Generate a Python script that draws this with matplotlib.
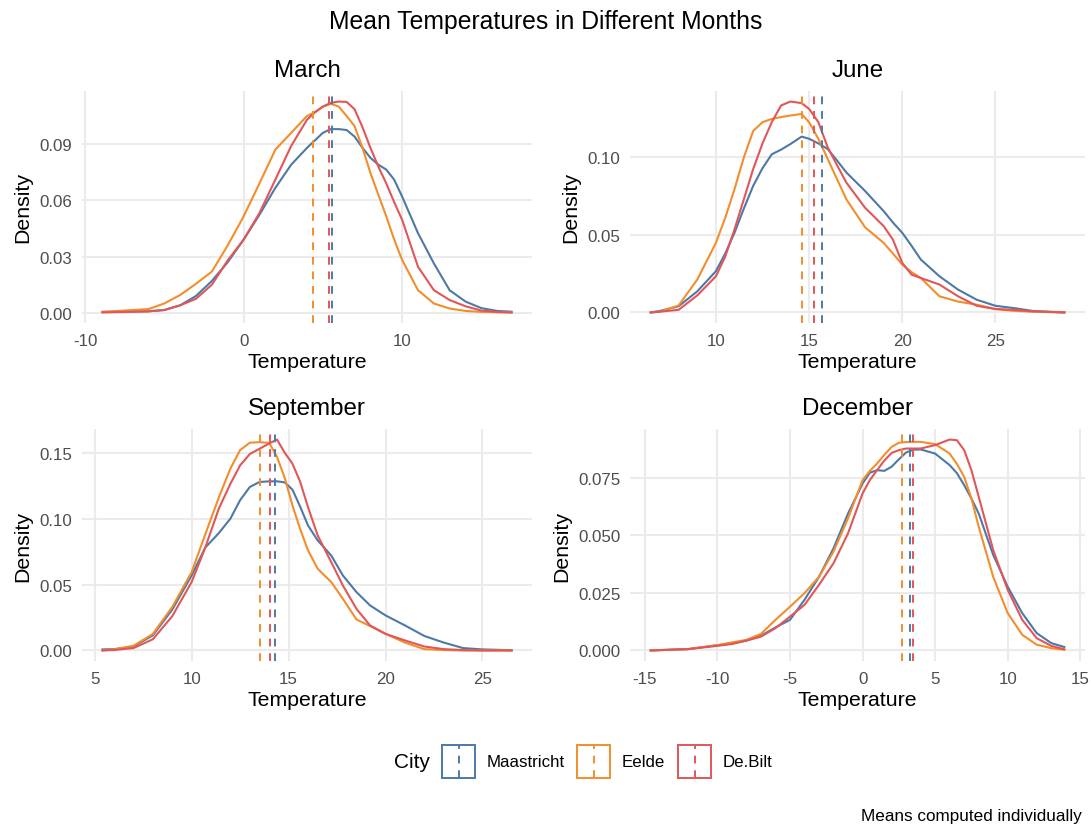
import matplotlib
matplotlib.use("Agg")
import matplotlib.pyplot as plt
from matplotlib.patches import Rectangle
from matplotlib.lines import Line2D

plt.rcParams['font.family'] = ['Liberation Sans', 'DejaVu Sans']
plt.rcParams['axes.unicode_minus'] = False

cities = ['Maastricht', 'Eelde', 'De.Bilt']
colors = ['#4E79A7', '#F28E2B', '#E15759']

# March
mar_x = [-8.9, -6, -5, -4, -3, -2, -1, 0, 1, 2, 3, 4, 4.5, 5, 5.5, 6, 6.5, 7, 7.5, 8, 8.5, 9, 9.5, 10,
         11, 12, 13, 14, 15, 16, 16.9]
mar_maastricht = [0.0005, 0.0008, 0.0015, 0.004, 0.009, 0.017, 0.027, 0.039, 0.0523, 0.0666, 0.079, 0.088, 0.092,
                  0.096, 0.098, 0.098, 0.0975, 0.094, 0.088, 0.0827, 0.079, 0.0764, 0.071, 0.062,
                  0.0425, 0.0264, 0.012, 0.006, 0.0025, 0.001, 0.0006]
mar_eelde = [0.0005, 0.002, 0.005, 0.0095, 0.0155, 0.022, 0.036, 0.0514, 0.069, 0.087, 0.096, 0.105, 0.107,
             0.110, 0.1115, 0.110, 0.105, 0.0996, 0.088, 0.0746, 0.063, 0.0514, 0.039, 0.0282,
             0.0121, 0.005, 0.0023, 0.001, 0.0005, 0.0003, 0.0002]
mar_debilt = [0.0002, 0.0008, 0.0015, 0.004, 0.0075, 0.015, 0.028, 0.039, 0.0532, 0.071, 0.089, 0.103, 0.107,
              0.110, 0.112, 0.1127, 0.1125, 0.1086, 0.099, 0.088, 0.078, 0.069, 0.059, 0.0496,
              0.0246, 0.0121, 0.0068, 0.0035, 0.0012, 0.0005, 0.0002]
mar_means = [5.58, 4.40, 5.39]

# June
jun_x = [6.5, 7, 8, 9, 10, 10.5, 11, 11.5, 12, 12.5, 13, 13.5, 14, 14.6, 15, 15.5, 16, 16.5, 17, 18, 19, 19.5,
         20, 20.5, 21, 22, 23, 24, 25, 26, 27, 28.7]
jun_maastricht = [0, 0.001, 0.004, 0.0136, 0.0266, 0.038, 0.0514, 0.067, 0.0816, 0.093, 0.102, 0.105, 0.1086, 0.1134,
                  0.112, 0.109, 0.1054, 0.098, 0.0903, 0.0784, 0.0654, 0.058, 0.0514, 0.043, 0.0341, 0.0233, 0.0147,
                  0.0082, 0.0043, 0.0028, 0.001, 0]
jun_eelde = [0, 0.0005, 0.0045, 0.0212, 0.0449, 0.061, 0.0795, 0.100, 0.117, 0.1227, 0.1248, 0.126, 0.127, 0.128,
             0.1227, 0.112, 0.099, 0.086, 0.073, 0.055, 0.0449, 0.038, 0.0309, 0.026, 0.0222, 0.0104, 0.007,
             0.005, 0.0022, 0.001, 0.0005, 0]
jun_debilt = [0, 0.0005, 0.0017, 0.011, 0.0233, 0.036, 0.0536, 0.073, 0.0924, 0.109, 0.1227, 0.1335, 0.136, 0.135,
              0.1313, 0.1227, 0.1065, 0.095, 0.0838, 0.0676, 0.0557, 0.047, 0.032, 0.0244, 0.0222, 0.018, 0.0104,
              0.0043, 0.0022, 0.0017, 0.0007, 0]
jun_means = [15.67, 14.6, 15.27]

# September
sep_x = [5.4, 6, 7, 8, 9, 10, 10.7, 11.4, 12, 12.5, 13, 13.5, 14, 14.4, 14.8, 15.2, 15.6, 16, 16.5, 17.2, 17.8,
         18.5, 19.2, 20, 21, 22, 23, 24, 25, 26.5]
sep_maastricht = [0.0008, 0.001, 0.003, 0.0115, 0.031, 0.0569, 0.078, 0.089, 0.100, 0.114, 0.124, 0.1278, 0.1283,
                  0.1283, 0.1275, 0.122, 0.109, 0.0949, 0.0835, 0.072, 0.0569, 0.0443, 0.0342, 0.0266, 0.019,
                  0.011, 0.006, 0.0018, 0.0008, 0.0002]
sep_eelde = [0, 0.0008, 0.0036, 0.0125, 0.033, 0.0594, 0.088, 0.116, 0.138, 0.152, 0.1576, 0.158, 0.1575, 0.147,
             0.131, 0.110, 0.092, 0.076, 0.062, 0.0519, 0.0392, 0.0235, 0.0185, 0.0126, 0.006, 0.001, 0.0003,
             0, 0, 0]
sep_debilt = [0, 0.0003, 0.0018, 0.0085, 0.026, 0.0519, 0.078, 0.1075, 0.1265, 0.1404, 0.149, 0.153, 0.157, 0.160,
              0.150, 0.1417, 0.1278, 0.1088, 0.0873, 0.067, 0.0493, 0.0316, 0.019, 0.0126, 0.0076, 0.003, 0.001,
              0.0003, 0, 0]
sep_means = [14.32, 13.55, 14.04]

# December
dec_x = [-14.6, -12, -10, -9, -8, -7, -6, -5, -4, -3, -2, -1, 0, 0.5, 1, 1.5, 2, 2.5, 3, 3.5, 4, 5, 6, 6.5,
         7, 7.5, 8, 9, 10, 11, 12, 13, 13.9]
dec_maastricht = [0, 0.0006, 0.0023, 0.003, 0.0043, 0.0064, 0.010, 0.0133, 0.022, 0.032, 0.0444, 0.0595, 0.0725,
                  0.0772, 0.0783, 0.078, 0.0798, 0.083, 0.086, 0.0872, 0.0873, 0.0855, 0.0805, 0.077,
                  0.0718, 0.066, 0.0595, 0.0415, 0.0277, 0.0162, 0.0075, 0.0032, 0.0015]
dec_eelde = [0, 0.0006, 0.0023, 0.0035, 0.0046, 0.0072, 0.0133, 0.019, 0.0249, 0.032, 0.043, 0.0574, 0.074,
             0.078, 0.0812, 0.085, 0.0884, 0.0902, 0.0905, 0.0906, 0.0906, 0.0896, 0.0855, 0.081,
             0.0754, 0.066, 0.0538, 0.032, 0.0162, 0.0068, 0.0025, 0.001, 0.0003]
dec_debilt = [0, 0.0006, 0.002, 0.0028, 0.0043, 0.006, 0.0097, 0.0147, 0.0198, 0.0285, 0.0379, 0.0509, 0.0682,
              0.074, 0.0783, 0.0825, 0.0858, 0.087, 0.0877, 0.0877, 0.0877, 0.0892, 0.0916, 0.0913,
              0.087, 0.0783, 0.0668, 0.0436, 0.0263, 0.0133, 0.0053, 0.002, 0.0005]
dec_means = [3.28, 2.74, 3.47]

panels = [
    ('March', mar_x, [mar_maastricht, mar_eelde, mar_debilt], mar_means, [-10, 0, 10], [0, 0.03, 0.06, 0.09], '%.2f'),
    ('June', jun_x, [jun_maastricht, jun_eelde, jun_debilt], jun_means, [10, 15, 20, 25], [0, 0.05, 0.10], '%.2f'),
    ('September', sep_x, [sep_maastricht, sep_eelde, sep_debilt], sep_means, [5, 10, 15, 20, 25], [0, 0.05, 0.10, 0.15], '%.2f'),
    ('December', dec_x, [dec_maastricht, dec_eelde, dec_debilt], dec_means, [-15, -10, -5, 0, 5, 10, 15],
     [0, 0.025, 0.05, 0.075], '%.3f'),
]

W, H = 1091, 828
fig = plt.figure(figsize=(W / 100, H / 100), dpi=100)

# panel boxes in pixels: left, top, right, bottom
boxes = [(82, 92, 532, 324), (630, 92, 1085, 324), (82, 430, 532, 662), (630, 430, 1085, 662)]

for (title, x, ys, means, xt, yt, fmt), (l, t, r, b) in zip(panels, boxes):
    ax = fig.add_axes([l / W, 1 - b / H, (r - l) / W, (b - t) / H])
    for y, c in zip(ys, colors):
        ax.plot(x, y, color=c, linewidth=1.5, solid_joinstyle='round')
    for m, c in zip(means, colors):
        ax.axvline(m, color=c, linewidth=1.4, linestyle=(0, (4, 3.5)))
    ax.margins(0.05)
    ax.set_xticks(xt)
    ax.set_yticks(yt)
    ax.set_yticklabels([fmt % v for v in yt])
    ax.set_xticklabels([str(v) for v in xt])
    for s in ax.spines.values():
        s.set_visible(False)
    ax.tick_params(length=0, labelsize=12.2, labelcolor='#4D4D4D', pad=7)
    ax.grid(True, color='#EBEBEB', linewidth=1.5)
    ax.set_axisbelow(True)
    ax.set_xlabel('Temperature', fontsize=15.3, labelpad=3)
    ax.set_ylabel('Density', fontsize=15.3, labelpad=5)
    ax.set_title(title, fontsize=17.4, pad=11)

fig.text(0.5, 1 - 22 / H, 'Mean Temperatures in Different Months', ha='center', va='center', fontsize=17.8)

# legend drawn in pixel coordinates
lax = fig.add_axes([0, 0, 1, 1], zorder=-1)
lax.set_xlim(0, W)
lax.set_ylim(H, 0)
lax.axis('off')
lax.text(394, 763, 'City', ha='left', va='center', fontsize=15)
key_x = [442, 577, 678]
for kx, c, name in zip(key_x, colors, cities):
    lax.add_patch(Rectangle((kx, 746), 33, 33, fill=False, edgecolor=c, linewidth=1.4))
    lax.add_line(Line2D([kx + 16.5, kx + 16.5], [746, 779], color=c, linewidth=1.4, linestyle=(2, (4, 3.5))))
    lax.text(kx + 45, 763, name, ha='left', va='center', fontsize=12.2)

lax.text(1082, 817, 'Means computed individually', ha='right', va='center', fontsize=12.3)

fig.savefig('out.png', dpi=100)
